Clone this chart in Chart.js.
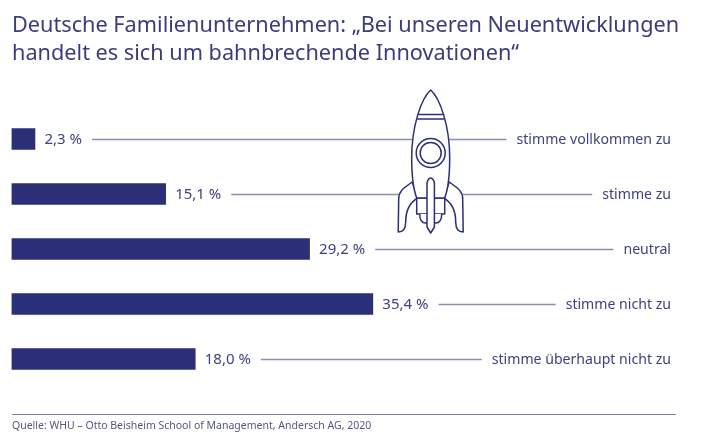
<!DOCTYPE html>
<html lang="de">
<head>
<meta charset="utf-8">
<title>Deutsche Familienunternehmen</title>
<script src="https://cdn.jsdelivr.net/npm/chart.js@4"></script>
<style>
  html, body { margin: 0; padding: 0; background: #fff; }
  #wrap { position: relative; width: 710px; height: 434px; overflow: hidden; font-family: "Noto Sans", sans-serif; }
  #chart { position: absolute; left: 0; top: 0; }
  #title { position: absolute; left: 12px; top: 10px; margin: 0; font-size: 21.7px; font-weight: 400; line-height: 28px; color: #3a3c7c; white-space: nowrap; }
  #rule { position: absolute; left: 12px; top: 414px; width: 664px; height: 1px; background: #7f81ae; }
  #source { position: absolute; left: 12px; top: 418px; font-size: 10.5px; line-height: 15px; color: #55577f; white-space: nowrap; }
</style>
</head>
<body>
<div id="wrap">
  <canvas id="chart" width="710" height="434"></canvas>
  <h1 id="title">Deutsche Familienunternehmen: „Bei unseren Neuentwicklungen<br>handelt es sich um bahnbrechende Innovationen“</h1>
  <div id="rule"></div>
  <div id="source">Quelle: WHU – Otto Beisheim School of Management, Andersch AG, 2020</div>
</div>
<script>
const categories = ["stimme vollkommen zu", "stimme zu", "neutral", "stimme nicht zu", "stimme überhaupt nicht zu"];
const values = [2.3, 15.1, 29.2, 35.4, 18.0];
const valueLabels = ["2,3 %", "15,1 %", "29,2 %", "35,4 %", "18,0 %"];

const navy = "#2b2f77";
const textColor = "#3f4180";
const leaderColor = "#8c8db6";
const valueFont = '15px "Noto Sans", sans-serif';
const categoryFont = '14.1px "Noto Sans", sans-serif';

// Value label, leader line and answer text for every bar
const rowLabels = {
  id: "rowLabels",
  afterDatasetsDraw(chart) {
    const ctx = chart.ctx;
    const x = chart.scales.x;
    const y = chart.scales.y;
    const right = 671;
    ctx.save();
    ctx.textBaseline = "middle";
    values.forEach((v, i) => {
      const py = y.getPixelForTick(i);
      const start = x.getPixelForValue(v) + 9.5;
      ctx.font = valueFont;
      const valueWidth = ctx.measureText(valueLabels[i]).width;
      ctx.font = categoryFont;
      const catWidth = ctx.measureText(categories[i]).width;

      ctx.strokeStyle = leaderColor;
      ctx.lineWidth = 1.3;
      ctx.beginPath();
      ctx.moveTo(start + valueWidth + 10, py + 0.5);
      ctx.lineTo(right - catWidth - 10, py + 0.5);
      ctx.stroke();

      ctx.fillStyle = textColor;
      ctx.font = valueFont;
      ctx.textAlign = "left";
      ctx.fillText(valueLabels[i], start, py + 1);
      ctx.font = categoryFont;
      ctx.textAlign = "right";
      ctx.fillText(categories[i], right, py + 1);
    });
    ctx.restore();
    drawRocket(ctx);
  }
};

// Rocket illustration, sits on top of the first two leader lines
function drawRocket(ctx) {
  ctx.save();
  ctx.translate(430.7, 0);
  ctx.strokeStyle = navy;
  ctx.fillStyle = "#fff";
  ctx.lineWidth = 1.5;
  ctx.lineJoin = "round";

  // fins, left then mirrored
  [1, -1].forEach(side => {
    ctx.beginPath();
    ctx.moveTo(side * -18.5, 182);
    ctx.bezierCurveTo(side * -25, 187, side * -32, 190, side * -32, 199);
    ctx.lineTo(side * -32.5, 232);
    ctx.bezierCurveTo(side * -27, 232, side * -25, 228, side * -25, 222);
    ctx.bezierCurveTo(side * -25, 210, side * -20, 202, side * -13, 198);
    ctx.closePath();
    ctx.fill();
    ctx.stroke();
  });

  // nozzle
  ctx.beginPath();
  ctx.moveTo(-14, 198);
  ctx.lineTo(-14, 214);
  ctx.lineTo(14, 214);
  ctx.lineTo(14, 198);
  ctx.closePath();
  ctx.fill();
  ctx.stroke();
  ctx.beginPath();
  ctx.moveTo(-11, 214);
  ctx.bezierCurveTo(-11, 220, -9, 223, -5, 223);
  ctx.lineTo(5, 223);
  ctx.bezierCurveTo(9, 223, 11, 220, 11, 214);
  ctx.fill();
  ctx.stroke();

  // body
  ctx.beginPath();
  ctx.moveTo(0, 90);
  ctx.bezierCurveTo(-9, 98, -19, 125, -19, 158);
  ctx.bezierCurveTo(-19, 175, -17, 190, -14, 198);
  ctx.lineTo(14, 198);
  ctx.bezierCurveTo(17, 190, 19, 175, 19, 158);
  ctx.bezierCurveTo(19, 125, 9, 98, 0, 90);
  ctx.closePath();
  ctx.fill();
  ctx.stroke();

  // band under the nose
  ctx.beginPath();
  ctx.moveTo(-12.5, 114.5);
  ctx.lineTo(12.5, 114.5);
  ctx.moveTo(-13.5, 119);
  ctx.lineTo(13.5, 119);
  ctx.stroke();

  // porthole
  ctx.beginPath();
  ctx.arc(0, 153, 14.5, 0, Math.PI * 2);
  ctx.stroke();
  ctx.beginPath();
  ctx.arc(0, 153, 10.5, 0, Math.PI * 2);
  ctx.stroke();

  // centre fin
  ctx.beginPath();
  ctx.moveTo(-3.7, 184);
  ctx.bezierCurveTo(-3.7, 181, -2, 178, 0, 178);
  ctx.bezierCurveTo(2, 178, 3.7, 181, 3.7, 184);
  ctx.lineTo(3.7, 227);
  ctx.lineTo(0, 233);
  ctx.lineTo(-3.7, 227);
  ctx.closePath();
  ctx.fill();
  ctx.stroke();
  ctx.restore();
}

new Chart(document.getElementById("chart"), {
  type: "bar",
  data: {
    labels: categories,
    datasets: [{
      data: values,
      backgroundColor: navy,
      barThickness: 21,
      borderWidth: 0
    }]
  },
  options: {
    indexAxis: "y",
    responsive: false,
    animation: false,
    layout: { padding: { left: 11.5, right: 35, top: 111.5, bottom: 47.5 } },
    plugins: { legend: { display: false }, tooltip: { enabled: false }, title: { display: false } },
    scales: {
      x: { min: 0, max: 65, display: false },
      y: { display: false }
    }
  },
  plugins: [rowLabels]
});
</script>
</body>
</html>
